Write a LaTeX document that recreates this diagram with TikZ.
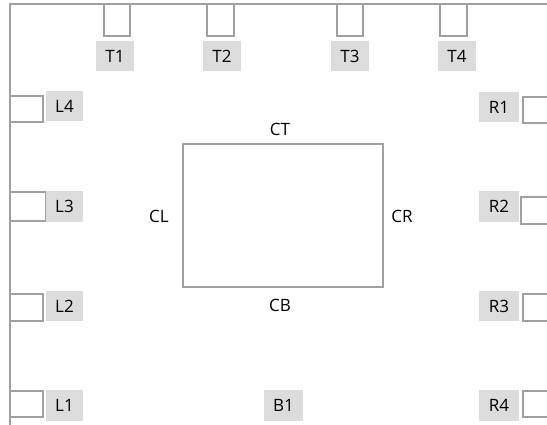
\documentclass[tikz,border=0pt]{standalone}
\usepackage{fontspec}
\setmainfont{Open Sans}
\definecolor{linegray}{HTML}{A0A0A0}
\definecolor{labelgray}{HTML}{DCDCDC}
\begin{document}
\begin{tikzpicture}[x=1pt,y=-1pt,
  port/.style={draw=linegray, fill=white, line width=1.2pt, inner sep=0pt},
  lbl/.style={fill=labelgray, inner sep=0pt, minimum height=30pt, font=\fontsize{17}{19}\selectfont},
  ctext/.style={inner sep=0pt, font=\fontsize{17}{19}\selectfont}]
\useasboundingbox (0,0) rectangle (547,425);
\clip (0,0) rectangle (547,425);
% outer frame
\draw[linegray, line width=1.2pt] (10,600) -- (10,4) -- (700,4);
% top ports
\node[port, minimum width=26pt, minimum height=32pt] (t1b) at (117,20) {};
\node[port, minimum width=27pt, minimum height=32pt] (t2b) at (220.5,20) {};
\node[port, minimum width=26pt, minimum height=32pt] (t3b) at (350,20) {};
\node[port, minimum width=27pt, minimum height=32pt] (t4b) at (453.5,20) {};
\node[lbl, minimum width=38pt] (t1) at (115,56) {T1};
\node[lbl, minimum width=38pt] (t2) at (222,56) {T2};
\node[lbl, minimum width=38pt] (t3) at (350,56) {T3};
\node[lbl, minimum width=38pt] (t4) at (457,56) {T4};
% left ports
\node[port, minimum width=33pt, minimum height=26pt] (l4b) at (26.5,109) {};
\node[port, minimum width=36pt, minimum height=29pt] (l3b) at (28,206.5) {};
\node[port, minimum width=33pt, minimum height=27pt] (l2b) at (26.5,307.5) {};
\node[port, minimum width=33pt, minimum height=26pt] (l1b) at (26.5,404) {};
\node[lbl, minimum width=37pt] (l4) at (64.5,106.5) {L4};
\node[lbl, minimum width=37pt, minimum height=31pt] (l3) at (64.5,206.5) {L3};
\node[lbl, minimum width=37pt] (l2) at (64.5,306) {L2};
\node[lbl, minimum width=37pt, minimum height=31pt] (l1) at (64.5,405.5) {L1};
% right ports
\node[port, minimum width=40pt, minimum height=26pt] (r1b) at (543,110) {};
\node[port, minimum width=40pt, minimum height=27pt] (r2b) at (541,210.5) {};
\node[port, minimum width=40pt, minimum height=27pt] (r3b) at (543,307.5) {};
\node[port, minimum width=40pt, minimum height=26pt] (r4b) at (543,404) {};
\node[lbl, minimum width=40pt] (r1) at (499,107) {R1};
\node[lbl, minimum width=40pt, minimum height=31pt] (r2) at (499,206.5) {R2};
\node[lbl, minimum width=40pt] (r3) at (499,306) {R3};
\node[lbl, minimum width=40pt, minimum height=31pt] (r4) at (499,405.5) {R4};
% bottom
\node[lbl, minimum width=39pt, minimum height=31pt] (b1) at (283.5,405.5) {B1};
% center block
\node[port, minimum width=200pt, minimum height=143pt] (core) at (283,215.5) {};
\node[ctext] (ct) at (280,129) {CT};
\node[ctext] (cb) at (280,305) {CB};
\node[ctext] (cl) at (159,216) {CL};
\node[ctext] (cr) at (402,216) {CR};
\end{tikzpicture}
\end{document}
